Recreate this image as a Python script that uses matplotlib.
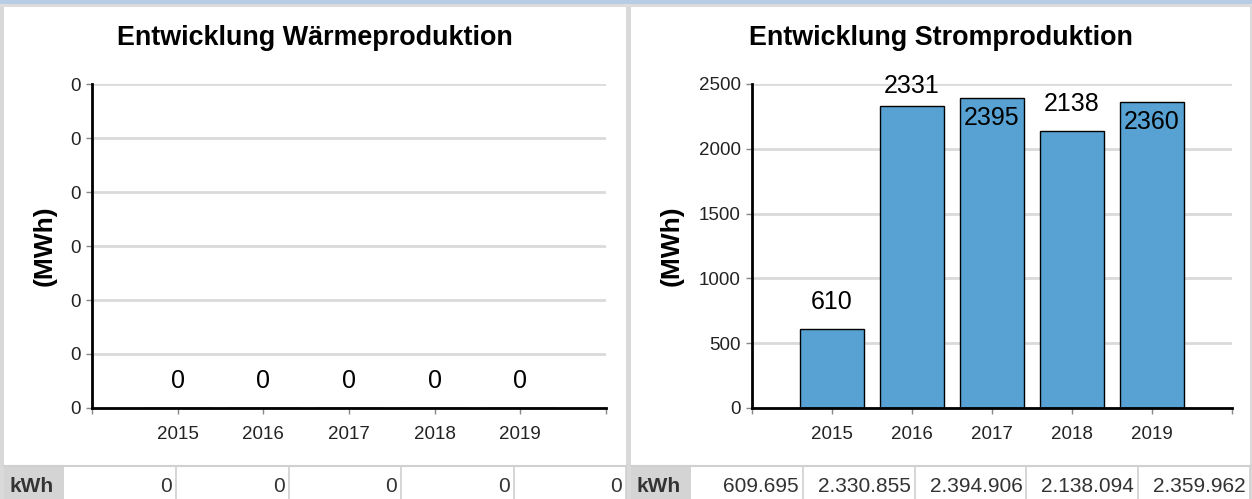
import numpy as np
import matplotlib
matplotlib.use("Agg")
import matplotlib.pyplot as plt
from matplotlib.patches import Rectangle
from matplotlib.ticker import FixedLocator, NullFormatter, StrMethodFormatter

plt.rcParams["font.family"] = ["Liberation Sans", "DejaVu Sans"]

# ---- data -------------------------------------------------------------
years = ["2015", "2016", "2017", "2018", "2019"]
waerme_kwh = [0, 0, 0, 0, 0]
strom_kwh = [609695, 2330855, 2394906, 2138094, 2359962]

title_waerme = "Entwicklung Wärmeproduktion"
title_strom = "Entwicklung Stromproduktion"
unit_label = "(MWh)"
table_unit = "kWh"

# ---- figure geometry (pixels) -----------------------------------------
W, H = 1252, 499
fig = plt.figure(figsize=(W / 100, H / 100), dpi=100)


def fx(x):
    return x / W


def fy(y):
    return 1 - y / H


BAR_COLOR = "#57a2d3"
GRID = "#dadada"
TXT = "#222222"
AX_TOP, AX_BOTTOM = 84, 408
AX_H = AX_BOTTOM - AX_TOP


def de_thousands(v):
    return f"{int(v):,}".replace(",", ".")


# page background pieces: top band, panel borders
fig.add_artist(Rectangle((0, fy(3.5)), 1, 3.5 / H, transform=fig.transFigure,
                         color="#b7cde6", lw=0, zorder=0))
fig.add_artist(Rectangle((0, fy(7)), 1, 3.5 / H, transform=fig.transFigure,
                         color="#dcdcdc", lw=0, zorder=0))
for x0, x1 in [(0, 3.5), (626, 631), (1250, 1252)]:
    fig.add_artist(Rectangle((fx(x0), 0), (x1 - x0) / W, fy(7),
                             transform=fig.transFigure, color="#d9d9d9",
                             lw=0, zorder=0))


def make_panel(ax_left, ax_right, panel_left, panel_right, ylab_x, values_mwh,
               ymax, yticks, title, kwh_values):
    ax = fig.add_axes([fx(ax_left), fy(AX_BOTTOM), (ax_right - ax_left) / W,
                       AX_H / H])
    x = np.arange(1, len(years) + 1)
    ax.bar(x, values_mwh, width=0.8, color=BAR_COLOR,
           edgecolor="black", linewidth=1.0, zorder=3)
    ax.set_xlim(0, len(years) + 1)
    ax.set_ylim(0, ymax)
    ax.set_yticks(yticks)
    ax.yaxis.set_major_formatter(StrMethodFormatter("{x:.0f}"))
    ax.set_xticks(x)
    ax.set_xticklabels(years)
    ax.xaxis.set_minor_locator(FixedLocator([0, len(years) + 1]))
    ax.xaxis.set_minor_formatter(NullFormatter())
    ax.tick_params(axis="both", which="both", length=4, width=1,
                   color="#888888", labelsize=13.5, labelcolor=TXT)
    ax.tick_params(axis="y", pad=4)
    ax.tick_params(axis="x", pad=9)
    ax.grid(axis="y", color=GRID, linewidth=2, zorder=0)
    ax.set_axisbelow(True)
    for s in ["top", "right"]:
        ax.spines[s].set_visible(False)
    for s in ["left", "bottom"]:
        ax.spines[s].set_linewidth(2)
        ax.spines[s].set_color("black")
        ax.spines[s].set_zorder(4)

    # value labels: above the bar, or inside its top when close to the limit
    for xi, v in zip(x, values_mwh):
        lab = f"{round(v):d}"
        if v > 0.94 * ymax:
            ax.annotate(lab, (xi, v), xytext=(0, -8), textcoords="offset pixels",
                        ha="center", va="top", fontsize=18, color="black",
                        zorder=5)
        else:
            room = (ymax - v) / ymax * AX_H - 9
            off = min(20, room)
            ax.annotate(lab, (xi, v), xytext=(0, off), textcoords="offset pixels",
                        ha="center", va="baseline", fontsize=18, color="black",
                        zorder=5, annotation_clip=False)

    pc = (panel_left + panel_right) / 2
    fig.text(fx(pc), fy(38), title, ha="center", va="center",
             fontsize=19.4, fontweight="bold", color="black")
    fig.text(fx(ylab_x), fy(246), unit_label, ha="center", va="center",
             rotation=90, fontsize=19, fontweight="bold", color="black")

    # value table below the chart
    top = 466
    unit_w = 60
    cell_w = (panel_right - panel_left - unit_w) / len(years)
    fig.add_artist(Rectangle((fx(panel_left), 0), unit_w / W, fy(top),
                             transform=fig.transFigure, facecolor="#d4d4d4",
                             edgecolor="none", zorder=1))
    fig.add_artist(plt.Line2D([fx(panel_left), fx(panel_right)], [fy(top), fy(top)],
                              transform=fig.transFigure, color="#d0d0d0", lw=1.5,
                              zorder=2))
    fig.text(fx(panel_left + 6), fy(486), table_unit, ha="left", va="center",
             fontsize=15, fontweight="bold", color="#333333")
    for i, kv in enumerate(kwh_values):
        xr = panel_left + unit_w + (i + 1) * cell_w
        fig.add_artist(plt.Line2D([fx(xr), fx(xr)], [0, fy(top)],
                                  transform=fig.transFigure, color="#d0d0d0",
                                  lw=1.2, zorder=2))
        fig.text(fx(xr - 4), fy(486), de_thousands(kv), ha="right",
                 va="center", fontsize=15, color="#333333")
    return ax


waerme_mwh = [v / 1000 for v in waerme_kwh]
strom_mwh = [v / 1000 for v in strom_kwh]

make_panel(92, 606, 3.5, 626, 45, waerme_mwh, 0.3, np.linspace(0, 0.3, 7),
           title_waerme, waerme_kwh)
make_panel(752, 1232, 631, 1250, 672, strom_mwh, 2500, np.arange(0, 2501, 500),
           title_strom, strom_kwh)

fig.savefig("out.png", dpi=100)
